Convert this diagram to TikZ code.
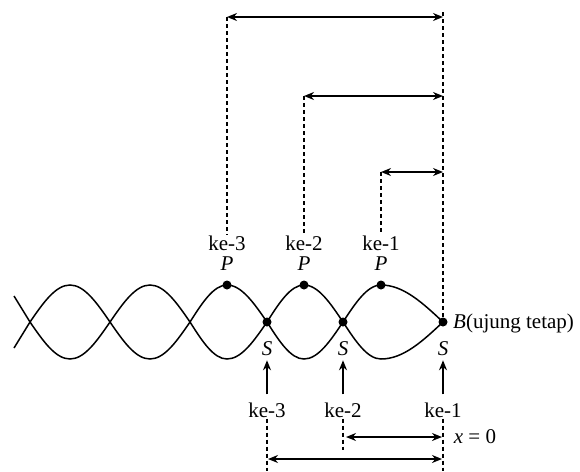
\documentclass[tikz,border=0pt]{standalone}
\usepackage{fontspec}
\setmainfont{Liberation Serif}
\usetikzlibrary{arrows.meta}

\begin{document}
\begin{tikzpicture}[x=1pt,y=-1pt,
  >={Stealth[length=10pt,width=8pt]},
  dot/.style={circle,fill,inner sep=0pt,minimum size=9pt},
  lbl/.style={font=\fontsize{21}{25}\selectfont,inner sep=1pt},
  guide/.style={dash pattern=on 4pt off 3pt,line width=1.7pt},
  span/.style={<->,line width=1.7pt},
  wave/.style={line width=1.5pt}]

\useasboundingbox (0,0) rectangle (580,471);

% Draw the standing wave
\draw[wave] (14,296) -- (30,322) sin (70,285) cos (110,322) sin (150,359) cos (190,322) sin (227,285) cos (267,322) sin (304,359) cos (343,322) sin (381,285) cos (443,322);
\draw[wave] (14,348) -- (30,322) sin (70,359) cos (110,322) sin (150,285) cos (190,322) sin (227,359) cos (267,322) sin (304,285) cos (343,322) sin (381,359) cos (443,322);

% Draw the nodes (S) and antinodes (P)
\node[dot] (S3) at (267,322) {};
\node[dot] (S2) at (343,322) {};
\node[dot] (B) at (443,322) {};
\node[dot] (P3) at (227,285) {};
\node[dot] (P2) at (304,285) {};
\node[dot] (P1) at (381,285) {};

% Labels
\node[lbl] (K3) at (227,243) {ke-3};
\node[lbl] (K2) at (304,243) {ke-2};
\node[lbl] (K1) at (381,243) {ke-1};
\node[lbl] (PL3) at (227,264) {\textit{P}};
\node[lbl] (PL2) at (304,264) {\textit{P}};
\node[lbl] (PL1) at (381,264) {\textit{P}};
\node[lbl,anchor=west] (BL) at (452,323) {\textit{B}(ujung tetap)};
\node[lbl] (SL3) at (267,349) {\textit{S}};
\node[lbl] (SL2) at (343,349) {\textit{S}};
\node[lbl] (SL1) at (443,349) {\textit{S}};
\node[lbl] (L3) at (267,410) {ke-3};
\node[lbl] (L2) at (343,410) {ke-2};
\node[lbl] (L1) at (443,410) {ke-1};
\node[lbl] (X0) at (475,437) {\textit{x} = 0};

% Ends of the guide lines
\coordinate (T3) at (227,17);
\coordinate (T2) at (304,96);
\coordinate (T1) at (381,172);
\coordinate (R3) at (443,17);
\coordinate (R2) at (443,96);
\coordinate (R1) at (443,172);
\coordinate (R0) at (443,12);
\coordinate (D3) at (267,471);
\coordinate (D2) at (343,450);
\coordinate (D1) at (443,471);
\coordinate (X2) at (346,437);
\coordinate (X1) at (442,437);
\coordinate (W3) at (268,459);
\coordinate (W1) at (442,459);

% Draw the guide lines
\draw[guide] (T3) -- (K3.north);
\draw[guide] (T2) -- (K2.north);
\draw[guide] (T1) -- (K1.north);
\draw[guide] (R0) -- (B);
\draw[guide] (L3.south) -- (D3);
\draw[guide] (L2.south) -- (D2);
\draw[guide] (L1.south) -- (D1);

% Draw the distances
\draw[span] (T3) -- (R3);
\draw[span] (T2) -- (R2);
\draw[span] (T1) -- (R1);
\draw[span] (X2) -- (X1);
\draw[span] (W3) -- (W1);

% Point at the nodes
\draw[->,line width=1.7pt,shorten <=7pt,shorten >=3pt] (L3.north) -- (SL3.south);
\draw[->,line width=1.7pt,shorten <=7pt,shorten >=3pt] (L2.north) -- (SL2.south);
\draw[->,line width=1.7pt,shorten <=7pt,shorten >=3pt] (L1.north) -- (SL1.south);

\end{tikzpicture}
\end{document}
